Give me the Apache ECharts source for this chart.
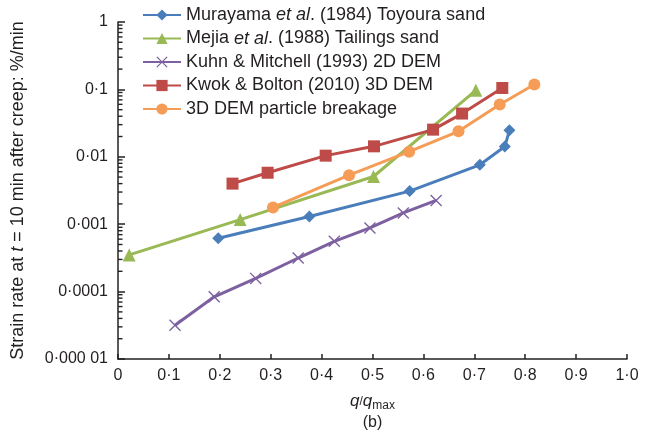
<!DOCTYPE html>
<html>
<head>
<meta charset="utf-8">
<script src="https://cdn.jsdelivr.net/npm/echarts@6/dist/echarts.min.js"></script>
<style>
  html, body { margin: 0; padding: 0; background: #fff; }
  #chart { width: 656px; height: 437px; }
</style>
</head>
<body>
<div id="chart"></div>
<script>
// data: [q/qmax, strain rate %/min]
const murayama = [[0.197, 0.00062], [0.376, 0.0013], [0.573, 0.0031], [0.711, 0.0076], [0.760, 0.0142], [0.769, 0.0247]];
const mejia = [[0.022, 0.00035], [0.240, 0.00117], [0.502, 0.0051], [0.703, 0.097]];
const kuhn = [[0.112, 0.0000317], [0.189, 0.0000837], [0.2705, 0.000157], [0.354, 0.000315], [0.425, 0.000557], [0.495, 0.00088], [0.5605, 0.00147], [0.625, 0.00225]];
const kwok = [[0.225, 0.0040], [0.294, 0.0058], [0.408, 0.0104], [0.503, 0.0143], [0.619, 0.0253], [0.676, 0.0438], [0.755, 0.105]];
const breakage = [[0.3045, 0.00177], [0.454, 0.00534], [0.572, 0.0119], [0.669, 0.0239], [0.750, 0.0596], [0.818, 0.118]];

const seriesNames = [
  'Murayama et al. (1984) Toyoura sand',
  'Mejia et al. (1988) Tailings sand',
  'Kuhn & Mitchell (1993) 2D DEM',
  'Kwok & Bolton (2010) 3D DEM',
  '3D DEM particle breakage'
];
const yTickLabels = { 1: '1', 0.1: '0·1', 0.01: '0·01', 0.001: '0·001', 0.0001: '0·0001', 0.00001: '0·000 01' };
const xTickLabels = ['0', '0·1', '0·2', '0·3', '0·4', '0·5', '0·6', '0·7', '0·8', '0·9', '1·0'];

// log minor ticks 2..9 in each decade
const minorTicks = [];
for (let e = -5; e < 0; e++) {
  for (let m = 2; m <= 9; m++) minorTicks.push(+(m * Math.pow(10, e)).toPrecision(3));
}

const FONT = '"Liberation Sans", Arial, sans-serif';
const TXT = '#231f20';
const crossPath = 'path://M0,0.8L0.8,0L10,9.2L9.2,10Z M9.2,0L10,0.8L0.8,10L0,9.2Z';

const myChart = echarts.init(document.getElementById('chart'));

const mk = (name, data, color, symbol, size) => ({
  name: name,
  type: 'line',
  data: data,
  symbol: symbol,
  symbolSize: size,
  showAllSymbol: true,
  lineStyle: { color: color, width: 3 },
  itemStyle: { color: color },
  emphasis: { disabled: true },
  z: 3
});

const option = {
  animation: false,
  textStyle: { fontFamily: FONT },
  grid: { left: 118, right: 29, top: 22, bottom: 78 },
  legend: {
    orient: 'vertical',
    left: 137,
    top: 1,
    itemWidth: 38,
    itemHeight: 14,
    itemGap: 5.5,
    data: seriesNames,
    textStyle: {
      fontFamily: FONT,
      fontSize: 18,
      color: TXT,
      rich: { i: { fontStyle: 'italic', fontSize: 18, color: TXT, fontFamily: FONT } }
    },
    formatter: (name) => name.replace('et al.', '{i|et al}.')
  },
  xAxis: {
    type: 'value',
    min: 0,
    max: 1,
    interval: 0.1,
    name: '{i|q}/{i|q}{s|max}\n{n|(b)}',
    nameLocation: 'middle',
    nameGap: 32,
    nameTextStyle: {
      color: TXT,
      rich: {
        i: { fontStyle: 'italic', fontSize: 17, color: TXT, fontFamily: FONT, lineHeight: 21 },
        s: { fontSize: 12, color: TXT, fontFamily: FONT, lineHeight: 21, padding: [9, 0, 0, 0] },
        n: { fontSize: 16, color: TXT, fontFamily: FONT, lineHeight: 21 }
      }
    },
    axisLine: { lineStyle: { color: '#222', width: 1.5 } },
    axisTick: { inside: true, length: 5, lineStyle: { color: '#222', width: 1.5 } },
    axisLabel: {
      fontSize: 16,
      color: TXT,
      margin: 9,
      formatter: (v) => xTickLabels[Math.round(v * 10)]
    },
    splitLine: { show: false }
  },
  yAxis: {
    type: 'log',
    logBase: 10,
    min: 0.00001,
    max: 1,
    name: 'Strain rate at {i|t} = 10 min after creep: %/min',
    nameLocation: 'middle',
    nameRotate: 90,
    nameGap: 91,
    nameTextStyle: {
      fontSize: 18,
      color: TXT,
      rich: { i: { fontStyle: 'italic', fontSize: 18, color: TXT, fontFamily: FONT } }
    },
    axisLine: { show: true, lineStyle: { color: '#222', width: 1.5 } },
    axisTick: { show: true, inside: true, length: 7, lineStyle: { color: '#222', width: 1.5 } },
    axisLabel: {
      fontSize: 16,
      color: TXT,
      margin: 10,
      formatter: (v) => {
        const key = +v.toPrecision(3);
        return yTickLabels[key] !== undefined ? yTickLabels[key] : '';
      }
    },
    splitLine: { show: false }
  },
  series: [
    mk(seriesNames[0], murayama, '#4a7ebb', 'diamond', 12),
    mk(seriesNames[1], mejia, '#98b954', 'triangle', 13),
    mk(seriesNames[2], kuhn, '#7d60a0', crossPath, 12),
    mk(seriesNames[3], kwok, '#be4b48', 'rect', 12),
    mk(seriesNames[4], breakage, '#f59d56', 'circle', 12),
    {
      // log minor ticks on the y axis, placed through the axis scale
      type: 'custom',
      name: 'minor',
      silent: true,
      clip: false,
      z: 5,
      data: minorTicks.map((v) => [0, v]),
      renderItem: (params, api) => {
        const p = api.coord([api.value(0), api.value(1)]);
        return {
          type: 'rect',
          shape: { x: p[0], y: p[1] - 0.7, width: 4.5, height: 1.4 },
          style: { fill: '#222' }
        };
      }
    }
  ]
};

option && myChart.setOption(option);
window.addEventListener('resize', myChart.resize);
</script>
</body>
</html>
